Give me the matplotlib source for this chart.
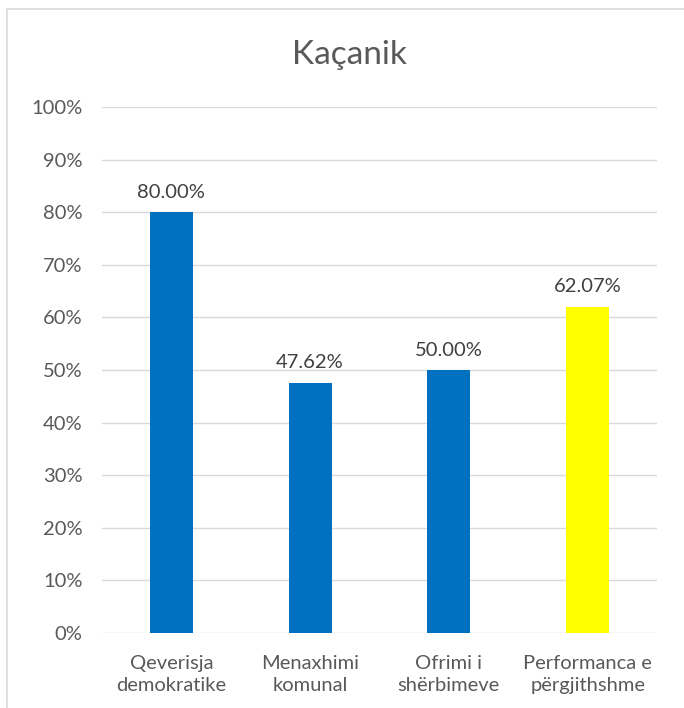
import matplotlib.pyplot as plt
from matplotlib.patches import Rectangle
from matplotlib.ticker import FuncFormatter

categories = ["Qeverisja\ndemokratike", "Menaxhimi\nkomunal", "Ofrimi i\nshërbimeve", "Performanca e\npërgjithshme"]
values = [80.00, 47.62, 50.00, 62.07]
colors = ["#0070c0", "#0070c0", "#0070c0", "#ffff00"]

plt.rcParams['font.family'] = ['Lato', 'DejaVu Sans']
text_color = "#595959"

fig = plt.figure(figsize=(6.84, 7.08), dpi=100)
ax = fig.add_axes([102 / 684, 1 - 633 / 708, 555 / 684, 526 / 708])

x = range(len(categories))
ax.bar(x, values, width=0.31, color=colors, zorder=3)
for i, v in zip(x, values):
    ax.annotate("%.2f%%" % v, xy=(i, v), xytext=(0, 8), textcoords="offset points",
                ha="center", va="bottom", fontsize=14.5, color="#404040")

ax.set_xlim(-0.5, len(categories) - 0.5)
ax.set_ylim(0, 100)
ax.set_yticks(range(0, 101, 10))
ax.yaxis.set_major_formatter(FuncFormatter(lambda v, p: "%d%%" % v))
ax.set_xticks(list(x))
ax.set_xticklabels(categories, fontsize=14.5, color=text_color, linespacing=1.35)
ax.tick_params(axis="y", labelsize=14.5, labelcolor=text_color, length=0, pad=14)
ax.tick_params(axis="x", length=0, pad=16)
ax.grid(axis="y", color="#d9d9d9", linewidth=1, zorder=0)
for s in ax.spines.values():
    s.set_visible(False)

fig.text(349 / 684, 1 - 55 / 708, "Kaçanik", ha="center", va="center", fontsize=24, color=text_color)

# chart frame (cropped on right and bottom)
fig.patches.append(Rectangle((7 / 684, -0.05), 1.2, 1 - 9 / 708 + 0.05, transform=fig.transFigure,
                             fill=False, edgecolor="#d9d9d9", linewidth=1.2))

fig.savefig("out.png", dpi=100)
